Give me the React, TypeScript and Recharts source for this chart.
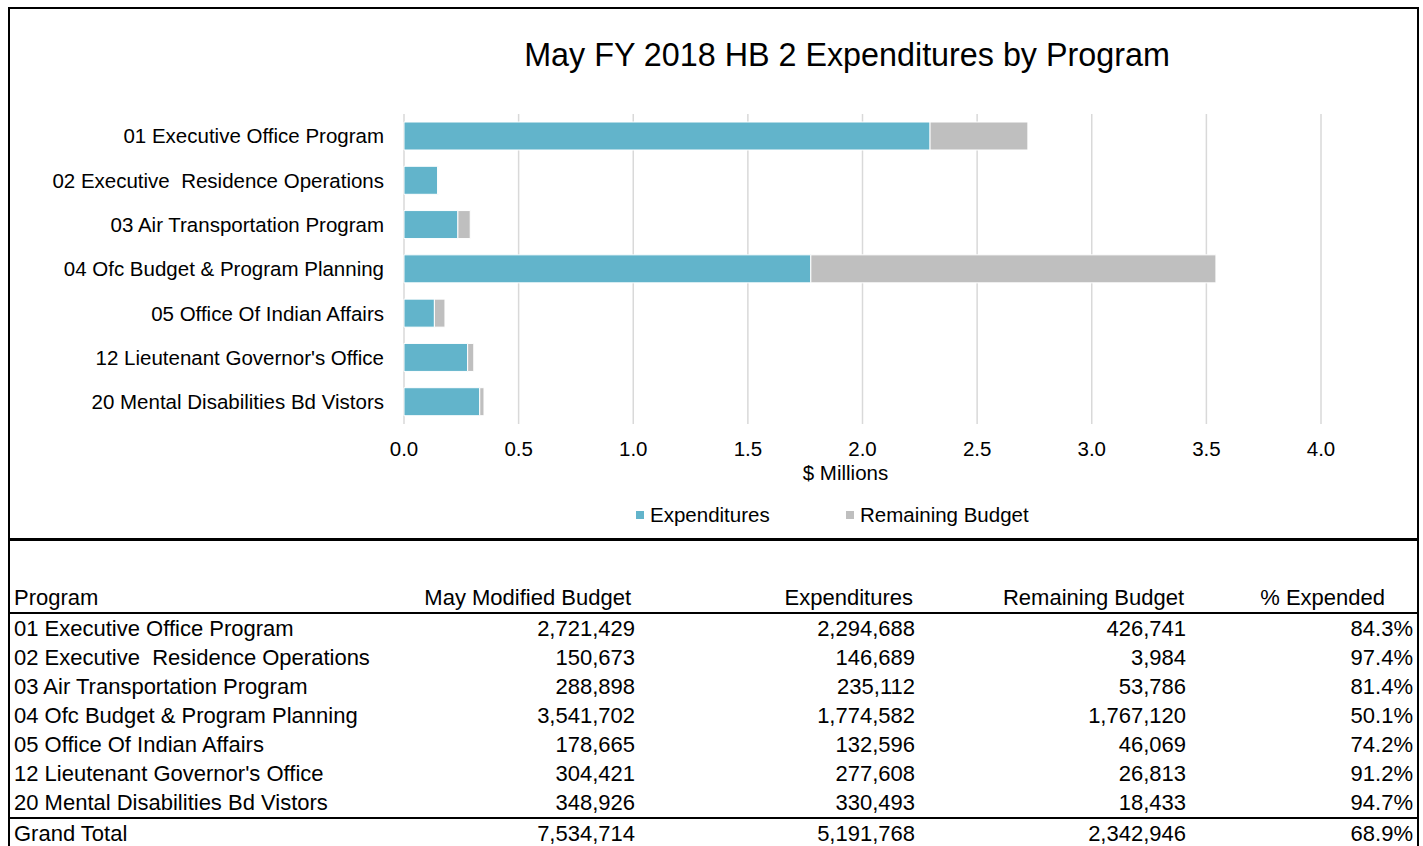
import { BarChart, Bar, XAxis, YAxis, CartesianGrid, Legend } from "recharts"

const PROGRAMS = [
  "01 Executive Office Program",
  "02 Executive  Residence Operations",
  "03 Air Transportation Program",
  "04 Ofc Budget & Program Planning",
  "05 Office Of Indian Affairs",
  "12 Lieutenant Governor's Office",
  "20 Mental Disabilities Bd Vistors",
]
const MODIFIED_BUDGET = [2721429, 150673, 288898, 3541702, 178665, 304421, 348926]
const EXPENDITURES = [2294688, 146689, 235112, 1774582, 132596, 277608, 330493]
const REMAINING = [426741, 3984, 53786, 1767120, 46069, 26813, 18433]
const PCT_EXPENDED = ["84.3%", "97.4%", "81.4%", "50.1%", "74.2%", "91.2%", "94.7%"]
const GRAND_TOTAL = [7534714, 5191768, 2342946]
const GRAND_PCT = "68.9%"
const X_TICKS = [0, 0.5, 1, 1.5, 2, 2.5, 3, 3.5, 4]
const HEADERS = ["Program", "May Modified Budget", "Expenditures", "Remaining Budget", "% Expended"]

const BLUE = "#62b4cb"
const GRAY = "#bfbfbf"
const FONT = "'Liberation Sans', Arial, sans-serif"

const chartData = PROGRAMS.map((name, i) => ({
  name,
  exp: EXPENDITURES[i] / 1e6,
  rem: REMAINING[i] / 1e6,
}))

const fmt = (v: number) => v.toLocaleString("en-US")

// column widths and right paddings for the table (data / header)
const COL_W = [400, 228, 280, 271, 228]
const PAD_R = [0, 3, 3, 3, 4]
const HEAD_PAD_R = [0, 7, 5, 5, 32]

function renderLegend(props: any) {
  const items = props.payload || []
  return (
    <div style={{ display: "flex", fontSize: 20.5, lineHeight: "24px", color: "#000" }}>
      {items.map((e: any, i: number) => (
        <div
          key={e.value}
          style={{ display: "flex", alignItems: "center", width: i === 0 ? 210 : "auto" }}
        >
          <span style={{ width: 8, height: 8, background: e.color, marginRight: 6 }} />
          <span>{e.value}</span>
        </div>
      ))}
    </div>
  )
}

const cell = (i: number, extra: any = {}) => ({
  width: COL_W[i],
  boxSizing: "border-box" as any,
  padding: 0,
  paddingLeft: i === 0 ? 4 : 0,
  paddingRight: PAD_R[i],
  textAlign: (i === 0 ? "left" : "right") as any,
  height: 29,
  lineHeight: "29px",
  ...extra,
})

export default function App() {
  return (
    <div
      style={{
        position: "absolute",
        left: 0,
        top: 0,
        width: 1423,
        height: 846,
        overflow: "hidden",
        background: "#fff",
        fontFamily: FONT,
        color: "#000",
        whiteSpace: "pre",
      }}
    >
      <div
        style={{
          position: "absolute",
          left: 8,
          top: 7,
          width: 1411,
          height: 534,
          border: "2px solid #000",
          boxSizing: "border-box",
        }}
      />
      <div
        style={{
          position: "absolute",
          left: 447,
          top: 35,
          width: 800,
          textAlign: "center",
          fontSize: 32.3,
          lineHeight: "40px",
        }}
      >
        May FY 2018 HB 2 Expenditures by Program
      </div>
      <div style={{ position: "absolute", left: 0, top: 0, width: 1423, height: 540 }}>
        <BarChart
          width={1423}
          height={540}
          data={chartData}
          layout="vertical"
          margin={{ top: 114, right: 102, bottom: 56, left: 0 }}
          barSize={28}
        >
          <CartesianGrid horizontal={false} stroke="#d9d9d9" strokeWidth={1.5} />
          <XAxis
            type="number"
            domain={[0, 4]}
            ticks={X_TICKS}
            tickFormatter={(v: number) => v.toFixed(1)}
            axisLine={false}
            tickLine={false}
            tickSize={0}
            tickMargin={17}
            height={60}
            tick={{ fill: "#000", fontSize: 20.5 }}
            label={{
              value: "$ Millions",
              position: "insideBottom",
              offset: 4,
              dx: -17,
              fill: "#000",
              fontSize: 20.5,
            }}
          />
          <YAxis
            type="category"
            dataKey="name"
            width={404}
            axisLine={false}
            tickLine={false}
            tickSize={0}
            tickMargin={20}
            tickFormatter={(v: string) => v.replace("  ", "\u00a0 ")}
            tick={{ fill: "#000", fontSize: 20.5 }}
          />
          <Bar dataKey="exp" name="Expenditures" stackId="a" fill={BLUE} stroke="#fff" strokeWidth={1} isAnimationActive={false} />
          <Bar dataKey="rem" name="Remaining Budget" stackId="a" fill={GRAY} stroke="#fff" strokeWidth={1} isAnimationActive={false} />
          <Legend
            layout="horizontal"
            verticalAlign="middle"
            align="center"
            content={renderLegend}
            wrapperStyle={{ top: 503, left: 636, width: 440 }}
          />
        </BarChart>
      </div>
      <div
        style={{
          position: "absolute",
          left: 8,
          top: 538,
          width: 1411,
          height: 330,
          borderTop: "3px solid #000",
          borderLeft: "2px solid #000",
          borderRight: "2px solid #000",
          boxSizing: "border-box",
          fontSize: 22,
        }}
      >
        <table
          style={{
            marginTop: 42,
            width: 1407,
            borderCollapse: "collapse",
            borderSpacing: 0,
            tableLayout: "fixed",
            fontSize: 22,
          }}
        >
          <colgroup>
            {COL_W.map((w, i) => (
              <col key={i} style={{ width: w }} />
            ))}
          </colgroup>
          <thead>
            <tr>
              {HEADERS.map((h, i) => (
                <th
                  key={h}
                  style={{
                    ...cell(i),
                    paddingRight: HEAD_PAD_R[i],
                    fontWeight: "normal",
                    borderBottom: "2px solid #000",
                  }}
                >
                  {h}
                </th>
              ))}
            </tr>
          </thead>
          <tbody>
            {PROGRAMS.map((p, r) => (
              <tr key={p}>
                <td style={cell(0)}>{p}</td>
                <td style={cell(1)}>{fmt(MODIFIED_BUDGET[r])}</td>
                <td style={cell(2)}>{fmt(EXPENDITURES[r])}</td>
                <td style={cell(3)}>{fmt(REMAINING[r])}</td>
                <td style={cell(4)}>{PCT_EXPENDED[r]}</td>
              </tr>
            ))}
            <tr>
              <td style={cell(0, { borderTop: "2px solid #000" })}>Grand Total</td>
              {GRAND_TOTAL.map((v, i) => (
                <td key={i} style={cell(i + 1, { borderTop: "2px solid #000" })}>
                  {fmt(v)}
                </td>
              ))}
              <td style={cell(4, { borderTop: "2px solid #000" })}>{GRAND_PCT}</td>
            </tr>
          </tbody>
        </table>
      </div>
    </div>
  )
}
